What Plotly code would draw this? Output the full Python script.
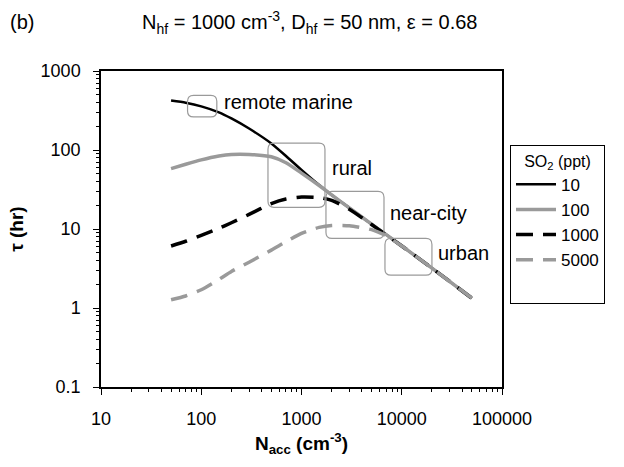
import numpy as np
import plotly.graph_objects as go

# ---- data ----
n_acc = [50, 70, 100, 150, 200, 300, 500, 700, 1000, 1500, 2000, 3000, 5000, 7000, 10000, 20000, 50000]
tau_so2_10 = [423, 397, 357, 300, 251, 187, 121, 84, 56, 36, 27, 18.5, 11.5, 8.5, 6.1, 3.2, 1.33]
tau_so2_100 = [58, 66, 75, 84, 88, 88, 82, 69, 51, 35.5, 27, 18.5, 11.5, 8.5, 6.1, 3.2, 1.33]
tau_so2_1000 = [6.1, 7.0, 8.3, 10.2, 12.0, 15.3, 21, 24, 25.4, 25, 23, 17.8, 11.4, 8.4, 6.1, 3.2, 1.33]
tau_so2_5000 = [1.27, 1.42, 1.7, 2.3, 2.9, 3.8, 5.4, 6.9, 8.8, 10.5, 11.1, 11.0, 9.8, 8.2, 6.1, 3.2, 1.33]
series_names = ["10", "100", "1000", "5000"]

# annotated regimes: label, box (N0, N1, tau_hi, tau_lo), text anchor (N, tau)
regime_labels = ["remote marine", "rural", "near-city", "urban"]
regime_boxes = [(73, 143, 492, 262), (463, 1714, 122, 18.8), (1754, 6650, 30, 7.6), (6800, 20000, 7.6, 2.6)]
regime_text_pos = [(161, 402), (1930, 60), (7300, 15.8), (22000, 4.9)]

FONT = "Arial, Liberation Sans, sans-serif"
W, H = 624, 467
ML, MR, MT, MB = 101, 122, 71, 80
XR = [1, 5]
YR = [-1, 3]
PW, PH = W - ML - MR, H - MT - MB

fig = go.Figure()
styles = [
    dict(color="black", width=2.5, dash="solid"),
    dict(color="#9a9a9a", width=3.5, dash="solid"),
    dict(color="black", width=3.5, dash="17px,10px"),
    dict(color="#9a9a9a", width=3.5, dash="17px,10px"),
]
for name, ys, st in zip(series_names, [tau_so2_10, tau_so2_100, tau_so2_1000, tau_so2_5000], styles):
    fig.add_trace(go.Scatter(x=n_acc, y=ys, mode="lines", name=name,
                             line=dict(shape="spline", smoothing=0.6, **st)))
# blank legend row to reproduce the taller legend box
fig.add_trace(go.Scatter(x=[None], y=[None], mode="lines", name=" ", line=dict(color="rgba(0,0,0,0)"),
                         hoverinfo="skip"))


def to_px(n, t):
    px = ML + (np.log10(n) - XR[0]) / (XR[1] - XR[0]) * PW
    py = MT + (YR[1] - np.log10(t)) / (YR[1] - YR[0]) * PH
    return px, py


def px_to_paper(px, py):
    return (px - ML) / PW, (H - MB - py) / PH


def rounded_path(x0, y0, x1, y1, r=6):
    segs = [
        ("M", x0 + r, y0), ("L", x1 - r, y0), ("Q", x1, y0, x1, y0 + r),
        ("L", x1, y1 - r), ("Q", x1, y1, x1 - r, y1), ("L", x0 + r, y1),
        ("Q", x0, y1, x0, y1 - r), ("L", x0, y0 + r), ("Q", x0, y0, x0 + r, y0),
    ]
    out = []
    for s in segs:
        cmd, coords = s[0], s[1:]
        conv = []
        for i in range(0, len(coords), 2):
            a, b = px_to_paper(coords[i], coords[i + 1])
            conv.append(f"{a:.5f},{b:.5f}")
        out.append(cmd + " ".join(conv))
    return " ".join(out) + " Z"


for (n0, n1, t0, t1) in regime_boxes:
    x0, y0 = to_px(n0, t0)
    x1, y1 = to_px(n1, t1)
    fig.add_shape(type="path", xref="paper", yref="paper", path=rounded_path(x0, y0, x1, y1, 6),
                  line=dict(color="#9a9a9a", width=1.2), layer="above")

for lab, (n, t) in zip(regime_labels, regime_text_pos):
    fig.add_annotation(x=np.log10(n), y=np.log10(t), xref="x", yref="y", text=lab, showarrow=False,
                       xanchor="left", yanchor="middle", font=dict(family=FONT, size=20, color="black"))

fig.add_annotation(x=(310 - ML) / PW, y=(H - MB - 22) / PH, xref="paper", yref="paper",
                   text="N<sub>hf</sub> = 1000 cm<sup>-3</sup>, D<sub>hf</sub> = 50 nm, ε = 0.68",
                   showarrow=False, xanchor="center", yanchor="middle", font=dict(family=FONT, size=20, color="black"))
fig.add_annotation(x=(8 - ML) / PW, y=(H - MB - 22) / PH, xref="paper", yref="paper", text="(b)",
                   showarrow=False, xanchor="left", yanchor="middle", font=dict(family=FONT, size=20, color="black"))

axis_common = dict(type="log", showgrid=False, zeroline=False, showline=True, linecolor="black", linewidth=1.5,
                   mirror=True, ticks="outside", ticklen=6, tickcolor="black", tickwidth=1.2, dtick=1,
                   tickformat="~g", automargin=False, ticklabelstandoff=9,
                   tickfont=dict(family=FONT, size=18, color="black"),
                   minor=dict(ticks="outside", ticklen=3, tickcolor="black", tickwidth=1, dtick="D1", showgrid=False))

fig.update_xaxes(range=XR, title=dict(text="<b>N<sub>acc</sub> (cm<sup>-3</sup>)</b>",
                                      font=dict(family=FONT, size=19, color="black"), standoff=8), **axis_common)
fig.update_yaxes(range=YR, title=dict(text="<b>τ (hr)</b>",
                                      font=dict(family=FONT, size=19, color="black"), standoff=12), **axis_common)

fig.update_layout(
    width=W, height=H, margin=dict(l=ML, r=MR, t=MT, b=MB),
    paper_bgcolor="white", plot_bgcolor="white",
    font=dict(family=FONT, size=16, color="black"),
    legend=dict(x=(510 - ML) / PW, y=(H - MB - 145) / PH, xanchor="left", yanchor="top",
                bordercolor="black", borderwidth=1, bgcolor="white", itemwidth=40,
                title=dict(text="SO<sub>2</sub> (ppt)", side="top center", font=dict(family=FONT, size=16)),
                font=dict(family=FONT, size=17), tracegroupgap=0),
)

fig.write_html("out.html", config={"displayModeBar": False},
               post_script="document.body.style.margin='0px';")
